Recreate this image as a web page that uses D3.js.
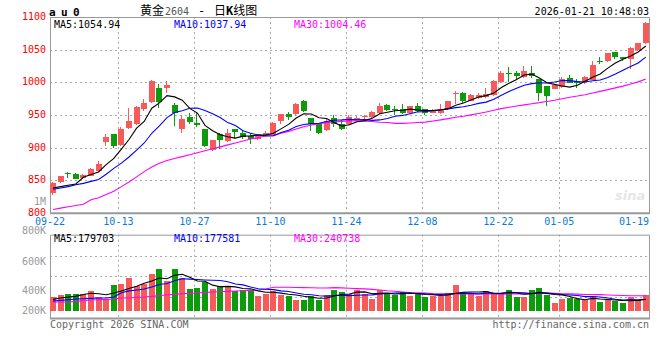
<!DOCTYPE html>
<html><head><meta charset="utf-8">
<script src="https://cdn.jsdelivr.net/npm/d3@7"></script>
<style>body{margin:0;background:#fff}svg{display:block}</style>
</head><body>
<svg id="c" width="660" height="360"></svg>
<script>
// ---------- data ----------
const dates = ["09-22","09-23","09-24","09-25","09-26","09-29","09-30",
"10-09","10-10","10-13","10-14","10-15","10-16","10-17","10-20","10-21","10-22","10-23","10-24","10-27","10-28","10-29","10-30","10-31",
"11-03","11-04","11-05","11-06","11-07","11-10","11-11","11-12","11-13","11-14","11-17","11-18","11-19","11-20","11-21","11-24","11-25","11-26","11-27","11-28",
"12-01","12-02","12-03","12-04","12-05","12-08","12-09","12-10","12-11","12-12","12-15","12-16","12-17","12-18","12-19","12-22","12-23","12-24","12-25","12-26","12-29","12-30","12-31",
"01-05","01-06","01-07","01-08","01-09","01-12","01-13","01-14","01-15","01-16","01-19","01-20"];
const opens  = [830,847,861,860,853,857,865,909,920,904,929,936,959,970,991,991,965,928,947,937,928,896,921,910,928,923,917,914,920,920,940,951,951,972,945,937,927,946,936,936,942,948,947,952,965,959,959,953,964,959,953,953,958,981,984,972,976,977,980,1000,1015,1014,1008,1014,1005,994,990,993,1007,1002,1000,1004,1032,1032,1046,1039,1036,1050,1061];
const highs  = [847,857,863,861,859,868,880,921,921,931,960,963,975,1003,997,1002,968,950,953,953,929,912,922,928,929,927,922,919,925,939,952,955,968,973,945,938,943,950,942,950,949,950,956,968,967,963,966,964,968,959,959,967,972,986,985,982,983,991,1003,1017,1024,1017,1025,1025,1005,994,996,1008,1011,1005,1009,1033,1039,1045,1046,1039,1054,1061,1092];
const lows   = [827,845,853,851,851,856,863,903,899,903,928,934,956,969,960,983,933,923,936,931,901,895,898,909,913,913,905,911,918,919,936,942,949,955,926,921,926,932,927,934,941,942,946,951,956,950,951,952,955,950,953,952,957,966,969,971,974,976,979,999,1000,1005,1007,1007,971,964,989,991,999,992,997,1003,1028,1031,1036,1033,1021,1048,1059];
const closes = [846,856,859,853,858,867,875,916,901,929,940,962,968,1002,970,996,952,943,939,934,902,911,912,923,924,917,913,918,923,938,951,947,967,956,936,922,941,937,928,947,945,949,955,963,958,957,953,963,957,953,958,959,971,983,971,981,981,982,1002,1014,1014,1009,1017,1009,984,978,996,1005,1000,999,1008,1027,1030,1045,1038,1036,1053,1060,1091];
// volume in thousand lots
const volumes = [223,261,277,277,277,326,223,196,424,440,533,408,440,603,680,478,680,533,359,370,461,359,408,386,326,331,331,245,277,315,261,245,179,179,233,179,261,342,305,277,331,277,196,342,289,261,305,240,289,223,245,245,289,424,289,277,245,321,289,272,337,223,223,337,370,261,126,196,207,191,168,245,142,168,152,126,217,179,261];
// moving-average values before enough history is on screen
const ma5Head  = [838,840,842,844];
const ma10Head = [836,838,840,843,845,848,851,859,868];
const ma30Head = [805,807,809,811,813,820,823,828,833,840,847,855,863,870,876,880,883,886,889,892,895,898,901,904,907,910,913,915,918];
const vma5Head  = [185,207,223,233];
const vma10Head = [158,168,179,190,196,201,207,207,223];
const vma30Head = [141,141,141,152,163,174,179,185,190,206,206,217,223,234,245,261,266,277,283,288,299,304,310,315,321,326,331,337,353];
const priceTicks = [800,850,900,950,1000,1050,1100];
const volTickLabels = ["200K","400K","600K","800K","1M"];
const volTickValues = [200,400,600,800,1000];
const dateTickIdx = [0,9,19,29,39,49,59,67,77];
const maPriceText = ["1054.94","1037.94","1004.46"];
const maVolText = ["179703","177581","240738"];

// ---------- setup ----------
const F = "'DejaVu Sans Mono', 'Liberation Mono', monospace";
const FS = 10;
const RED = "#f85a5a", GREEN = "#0b9b0b", GRID = "#aaa", BORDER = "#999";
const MA_COL = ["#000000", "#0000ff", "#ff00ff"];
const svg = d3.select("#c");
const L = 50, R = 649, T = 17, B = 212.7, VT = 234.7, VB = 318, VBASE = 310.7;

const x = d3.scaleBand().domain(dates).range([L, L + 78 * 7.6 + 6]).paddingInner(0.21).paddingOuter(0).align(0);
const yP = d3.scaleLinear().domain([800, 1100]).range([B, 17.1]);
const yV = d3.scaleLinear().domain([0, 1239]).range([VBASE, VT]);
const yVLabel = d3.scaleLinear().domain(volTickValues).range([310, 290, 261, 230, 201]);

function movingAvg(vals, n, head) {
  return vals.map((v, i) => i < n - 1 ? head[i] : d3.mean(vals.slice(i - n + 1, i + 1)));
}
const cx = i => Math.round(x(dates[i])) + 2.5;
const px = v => Math.round(v) + 0.5;

// ---------- grids ----------
const g = svg.append("g");
g.selectAll(".hg").data(priceTicks.slice(1, -1)).join("line")
  .attr("x1", L).attr("x2", R).attr("y1", d => px(yP(d))).attr("y2", d => px(yP(d)))
  .attr("stroke", GRID).attr("stroke-dasharray", "2,3");
const vIdx = dateTickIdx.slice(1, -1);
[[T, B], [VT, VB]].forEach(([a, b]) => {
  g.append("g").selectAll("line").data(vIdx).join("line")
    .attr("x1", i => px(x(dates[i]))).attr("x2", i => px(x(dates[i])))
    .attr("y1", a).attr("y2", b).attr("stroke", GRID).attr("stroke-dasharray", "2,3");
});
g.append("g").selectAll("line").data([1, 2, 3]).join("line")
  .attr("x1", L).attr("x2", R)
  .attr("y1", k => px(VT + k * (VB - VT) / 4)).attr("y2", k => px(VT + k * (VB - VT) / 4))
  .attr("stroke", GRID).attr("stroke-dasharray", "2,3");

// borders
[[T, B], [VT, VB]].forEach(([a, b]) => {
  svg.append("path").attr("d", `M${L + 0.5},${b}V${a + 0.5}H${R + 0.5}V${b}`)
    .attr("fill", "none").attr("stroke", BORDER);
  svg.append("line").attr("x1", L).attr("x2", R + 1).attr("y1", b + 0.5).attr("y2", b + 0.5)
    .attr("stroke", BORDER).attr("stroke-width", 2);
});

// ---------- candles ----------
const idx = d3.range(dates.length);
const cg = svg.append("g");
cg.selectAll("line").data(idx).join("line")
  .attr("x1", cx).attr("x2", cx)
  .attr("y1", i => Math.round(yP(highs[i]))).attr("y2", i => Math.round(yP(lows[i])))
  .attr("stroke", i => closes[i] >= opens[i] ? RED : GREEN);
cg.selectAll("rect").data(idx).join("rect")
  .attr("x", i => Math.round(x(dates[i])))
  .attr("width", Math.round(x.bandwidth()))
  .attr("y", i => Math.round(yP(Math.max(opens[i], closes[i]))))
  .attr("height", i => Math.max(1, Math.round(Math.abs(yP(opens[i]) - yP(closes[i])))))
  .attr("fill", i => closes[i] >= opens[i] ? RED : GREEN)
  .attr("shape-rendering", "crispEdges");

const pMA = [movingAvg(closes, 5, ma5Head), movingAvg(closes, 10, ma10Head), movingAvg(closes, 30, ma30Head)];
const lineP = d3.line().x((d, i) => x(dates[i]) + 3).y(d => yP(d));
[2, 1, 0].forEach(k => svg.append("path").attr("d", lineP(pMA[k]))
  .attr("fill", "none").attr("stroke", MA_COL[k]).attr("stroke-width", 1.1));

// ---------- volume ----------
svg.append("g").selectAll("rect").data(idx).join("rect")
  .attr("x", i => Math.round(x(dates[i])))
  .attr("width", Math.round(x.bandwidth()))
  .attr("y", i => yV(volumes[i]))
  .attr("height", i => yV(0) - yV(volumes[i]))
  .attr("fill", i => closes[i] >= opens[i] ? RED : GREEN)
  .attr("shape-rendering", "crispEdges");
const vMA = [movingAvg(volumes, 5, vma5Head), movingAvg(volumes, 10, vma10Head), movingAvg(volumes, 30, vma30Head)];
const lineV = d3.line().x((d, i) => x(dates[i]) + 3).y(d => yV(d));
[2, 1, 0].forEach(k => svg.append("path").attr("d", lineV(vMA[k]))
  .attr("fill", "none").attr("stroke", MA_COL[k]).attr("stroke-width", 1.1));

// ---------- axes / labels ----------
const yAxis = svg.append("g").attr("transform", `translate(${L - 3},0)`)
  .call(d3.axisLeft(yP).tickValues(priceTicks).tickSize(0).tickPadding(1).tickFormat(d3.format("d")));
yAxis.select(".domain").remove();
yAxis.selectAll("text").attr("fill", "#f00").attr("font-family", F).attr("font-size", FS).attr("dy", "0.25em");

const vAxis = svg.append("g").attr("transform", `translate(${L - 3},0)`)
  .call(d3.axisLeft(yVLabel).tickValues(volTickValues).tickSize(0).tickPadding(1)
    .tickFormat((d, i) => volTickLabels[i]));
vAxis.select(".domain").remove();
vAxis.selectAll("text").attr("fill", "#999").attr("font-family", F).attr("font-size", FS);

svg.append("g").selectAll("text").data(dateTickIdx).join("text")
  .attr("x", (i, k) => k === dateTickIdx.length - 1 ? R : x(dates[i]))
  .attr("y", 225)
  .attr("text-anchor", (i, k) => k === dateTickIdx.length - 1 ? "end" : "middle")
  .attr("fill", "#0a7bd5").attr("font-family", F).attr("font-size", FS)
  .text(i => dates[i]);

const maNames = ["MA5:", "MA10:", "MA30:"];
const maX = [54, 174, 294];
maNames.forEach((n, k) => {
  svg.append("text").attr("x", maX[k]).attr("y", 27.5).attr("fill", MA_COL[k])
    .attr("font-family", F).attr("font-size", FS).text(n + maPriceText[k]);
  svg.append("text").attr("x", maX[k]).attr("y", 242).attr("fill", MA_COL[k])
    .attr("font-family", F).attr("font-size", FS).text(n + maVolText[k]);
});

// title
svg.append("text").attr("x", 49).attr("y", 15.5).attr("font-family", F).attr("font-weight", "bold")
  .attr("font-size", 11).attr("letter-spacing", -0.6).text("a u 0");
const t = svg.append("text").attr("y", 15).attr("font-size", 12);
t.append("tspan").attr("x", 140).attr("font-family", "'Noto Sans CJK SC'").text("黄金");
t.append("tspan").attr("x", 165).attr("font-family", F).attr("font-size", 10).attr("fill", "#555").text("2604");
t.append("tspan").attr("x", 198).attr("font-family", F).text("-");
t.append("tspan").attr("x", 214).attr("font-family", "'Noto Sans CJK SC'").text("日");
t.append("tspan").attr("font-family", F).attr("font-weight", "bold").text("K");
t.append("tspan").attr("font-family", "'Noto Sans CJK SC'").text("线图");
svg.append("text").attr("x", R).attr("y", 15).attr("text-anchor", "end")
  .attr("font-family", F).attr("font-size", FS).text("2026-01-21 10:48:03");

// watermark
svg.append("text").attr("x", 615).attr("y", 200).attr("font-family", "Verdana, 'DejaVu Sans'")
  .attr("font-style", "italic").attr("font-weight", "bold").attr("font-size", 13).attr("fill", "#e6e6e6").text("sina");

// footer
svg.append("text").attr("x", 50).attr("y", 328).attr("fill", "#666").attr("font-family", F)
  .attr("font-size", FS).text("Copyright 2026 SINA.COM");
svg.append("text").attr("x", R).attr("y", 328).attr("text-anchor", "end").attr("fill", "#666")
  .attr("font-family", F).attr("font-size", FS).text("http://finance.sina.com.cn");
</script>
</body></html>
